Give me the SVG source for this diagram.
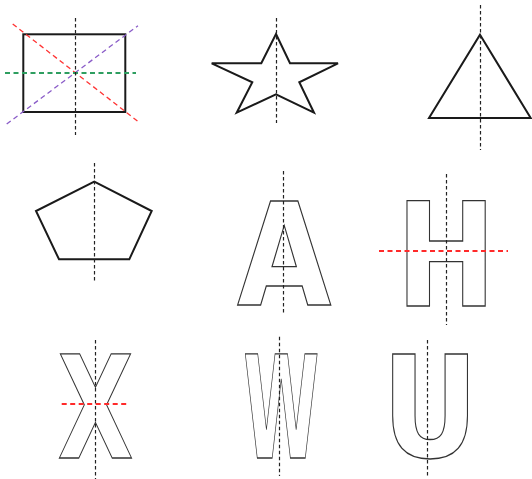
<svg xmlns="http://www.w3.org/2000/svg" width="532" height="479" viewBox="0 0 532 479">
<style>
.shape{fill:none;stroke:#1a1a1a;stroke-width:2;stroke-linejoin:miter}
.letter{fill:none;stroke:#333;stroke-width:0.9;font-family:"DejaVu Sans",sans-serif;font-weight:bold;font-size:100px;text-anchor:middle}
.axis{fill:none;stroke:#222;stroke-width:1.2;stroke-dasharray:3.5,2.5}
.red{fill:none;stroke:#ff3333;stroke-width:1.3;stroke-dasharray:5,3.5}
.hred{fill:none;stroke:#ff2a2a;stroke-width:1.8;stroke-dasharray:5,3.5}
.green{fill:none;stroke:#2e9e60;stroke-width:1.8;stroke-dasharray:5,3.5}
.purple{fill:none;stroke:#8a5cc8;stroke-width:1.3;stroke-dasharray:5,3.5}
</style>
<rect width="532" height="479" fill="#fff"/>
<g id="rectangle"><rect class="shape" x="23.3" y="34.3" width="102" height="77.7"/></g>
<g id="star"><polygon class="shape" points="276,34 290,63.3 338,63.3 299.3,82.3 314,112.7 276,94.3 236.7,112.7 252.3,82.3 211.7,63.3 261.3,63.3"/></g>
<g id="triangle"><polygon class="shape" points="480,34.7 530.7,118 429,118"/></g>
<g id="pentagon"><polygon class="shape" points="94.3,181.7 151.7,211 129.3,259.3 59,259.3 36,211"/></g>
<g id="letter-a"><text class="letter" transform="translate(284.2,305) scale(1.22,1.427)">A</text></g>
<g id="letter-h"><text class="letter" transform="translate(446.2,306) scale(1.197,1.44)">H</text></g>
<g id="letter-x"><text class="letter" transform="translate(95.5,458.3) scale(0.986,1.43)">X</text></g>
<g id="letter-w"><text class="letter" transform="translate(281.3,458.3) scale(0.69,1.43)">W</text></g>
<g id="letter-u"><text class="letter" transform="translate(430,457) scale(1.19,1.41)">U</text></g>
<g id="connectors">
<line class="red" x1="12.7" y1="24" x2="140" y2="123"/>
<line class="purple" x1="6.7" y1="124" x2="138" y2="25.7"/>
<line class="green" x1="5" y1="73" x2="136" y2="73"/>
<line class="axis" x1="75.5" y1="18" x2="75.5" y2="135"/>
<line class="axis" x1="276.5" y1="18" x2="276.5" y2="123"/>
<line class="axis" x1="480.5" y1="5" x2="480.5" y2="150"/>
<line class="axis" x1="94.5" y1="163" x2="94.5" y2="282"/>
<line class="axis" x1="283.5" y1="171" x2="283.5" y2="313"/>
<line class="axis" x1="446.5" y1="174" x2="446.5" y2="325"/>
<line class="hred" x1="379" y1="251" x2="508" y2="251"/>
<line class="axis" x1="95.5" y1="340" x2="95.5" y2="479"/>
<line class="hred" x1="61.7" y1="404" x2="126.7" y2="404"/>
<line class="axis" x1="279.5" y1="336.7" x2="279.5" y2="476"/>
<line class="axis" x1="427.5" y1="340" x2="427.5" y2="477"/>
</g>
</svg>
